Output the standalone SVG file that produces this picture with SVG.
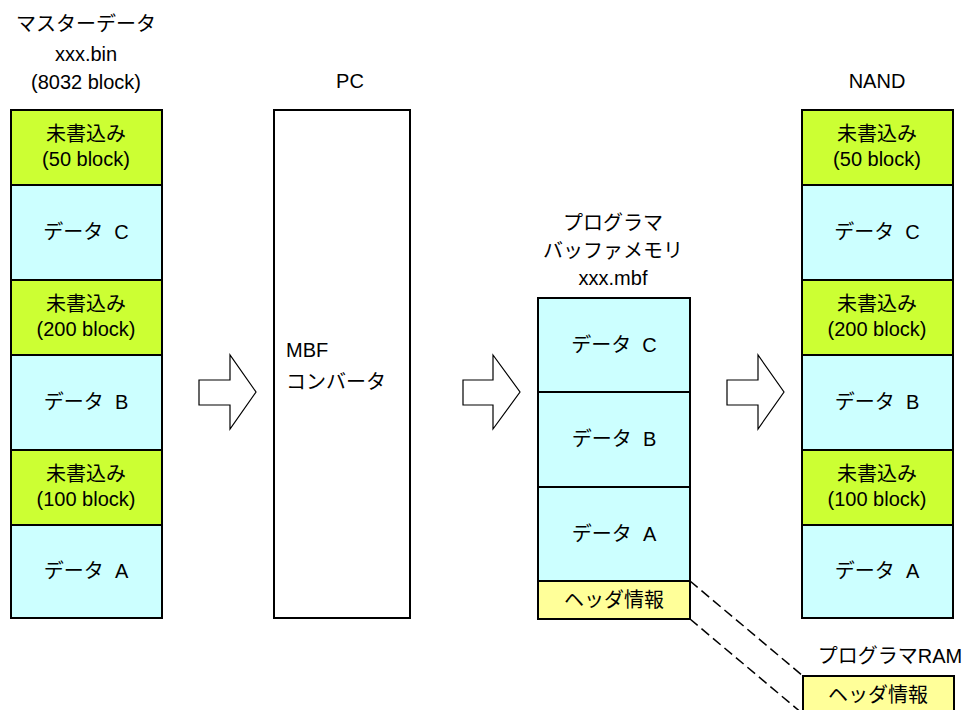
<svg xmlns="http://www.w3.org/2000/svg" width="968" height="710" viewBox="0 0 968 710">
<style>
text{font-family:"Liberation Sans","Noto Sans CJK JP",sans-serif;font-size:20px;fill:#000;text-anchor:middle}
.g{fill:#CCFF33;stroke:#000;stroke-width:2}
.c{fill:#CCFFFF;stroke:#000;stroke-width:2}
.y{fill:#FFFF99;stroke:#000;stroke-width:2}
.w{fill:#FFF;stroke:#000;stroke-width:2}
.arr{fill:#FFF;stroke:#000;stroke-width:1.2;stroke-linejoin:miter}
.dash{stroke:#000;stroke-width:1.5;stroke-dasharray:10 5;fill:none}
.l{text-anchor:start}
</style>
<rect width="968" height="710" fill="#FFF"/>

<g id="master">
<text x="86" y="31">マスターデータ</text>
<text x="86" y="61">xxx.bin</text>
<text x="86" y="89">(8032 block)</text>
<rect class="g" x="11" y="110" width="151" height="75"/>
<text x="86" y="141">未書込み</text>
<text x="86" y="166">(50 block)</text>
<rect class="c" x="11" y="185" width="151" height="95"/>
<text x="86" y="239" xml:space="preserve">データ  C</text>
<rect class="g" x="11" y="280" width="151" height="75"/>
<text x="86" y="311">未書込み</text>
<text x="86" y="336">(200 block)</text>
<rect class="c" x="11" y="355" width="151" height="95"/>
<text x="86" y="409" xml:space="preserve">データ  B</text>
<rect class="g" x="11" y="450" width="151" height="75"/>
<text x="86" y="481">未書込み</text>
<text x="86" y="506">(100 block)</text>
<rect class="c" x="11" y="525" width="151" height="93"/>
<text x="86" y="578" xml:space="preserve">データ  A</text>
</g>

<g id="pc">
<text x="350" y="88">PC</text>
<rect class="w" x="274" y="110" width="136" height="508"/>
<text class="l" x="286" y="357">MBF</text>
<text class="l" x="286" y="389">コンバータ</text>
</g>

<g id="buffer">
<text x="613" y="230">プログラマ</text>
<text x="613" y="258">バッファメモリ</text>
<text x="613" y="285">xxx.mbf</text>
<rect class="c" x="538" y="298" width="152" height="94"/>
<text x="614" y="352" xml:space="preserve">データ  C</text>
<rect class="c" x="538" y="392" width="152" height="95"/>
<text x="614" y="446" xml:space="preserve">データ  B</text>
<rect class="c" x="538" y="487" width="152" height="94"/>
<text x="614" y="541" xml:space="preserve">データ  A</text>
<rect class="y" x="538" y="581" width="152" height="38"/>
<text x="614" y="607">ヘッダ情報</text>
</g>

<g id="nand">
<text x="877" y="88">NAND</text>
<rect class="g" x="802" y="110" width="151" height="75"/>
<text x="877" y="141">未書込み</text>
<text x="877" y="166">(50 block)</text>
<rect class="c" x="802" y="185" width="151" height="95"/>
<text x="877" y="239" xml:space="preserve">データ  C</text>
<rect class="g" x="802" y="280" width="151" height="75"/>
<text x="877" y="311">未書込み</text>
<text x="877" y="336">(200 block)</text>
<rect class="c" x="802" y="355" width="151" height="95"/>
<text x="877" y="409" xml:space="preserve">データ  B</text>
<rect class="g" x="802" y="450" width="151" height="75"/>
<text x="877" y="481">未書込み</text>
<text x="877" y="506">(100 block)</text>
<rect class="c" x="802" y="525" width="151" height="93"/>
<text x="877" y="578" xml:space="preserve">データ  A</text>
</g>

<g id="ram">
<text x="890" y="663">プログラマRAM</text>
<rect class="y" x="803" y="676" width="151" height="38"/>
<text x="878" y="702">ヘッダ情報</text>
</g>

<g id="connectors">
<path class="arr" d="M199,380 H230 V355 L256,392 L230,429 V405 H199 Z"/>
<path class="arr" d="M463,380 H493 V355 L520,392 L493,429 V405 H463 Z"/>
<path class="arr" d="M727,380 H758 V355 L784,392 L758,429 V405 H727 Z"/>
<line class="dash" x1="690" y1="581" x2="803" y2="676"/>
<line class="dash" x1="690" y1="619" x2="803" y2="714"/>
</g>
</svg>
